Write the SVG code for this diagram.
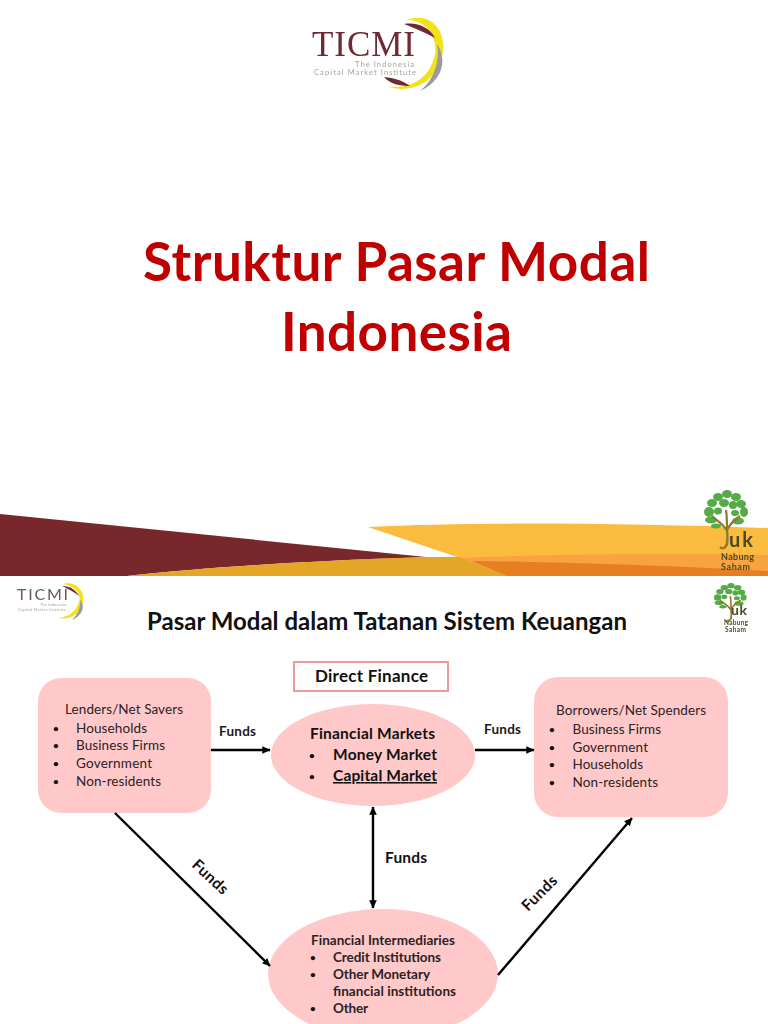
<svg xmlns="http://www.w3.org/2000/svg" width="768" height="1024" viewBox="0 0 768 1024">
<style>
text{font-family:Lato,"Liberation Sans",sans-serif;fill:#1a1a1a}
.title{font-size:53px;font-weight:700;fill:#c00000}
.item{font-size:13.5px;fill:#2a2226}
.b{font-size:15.5px;font-weight:700;fill:#111}
.f{font-size:13.5px;font-weight:700;fill:#1a1a1a}
.im{font-size:13.5px;font-weight:700;fill:#2a2226}
.bu{font-size:10px;font-weight:700;fill:#111}
.pink{fill:#ffc9c9}
.c{fill:none;stroke:#000;stroke-width:2.4}
.logo{font-family:"Liberation Serif",serif;fill:#6e2a30}
.sub{fill:#a8a29c}
.leaf{fill:#55ab45}
.ny{fill:#4a4a24;font-weight:700}
</style>
<defs>
<marker id="a" markerWidth="4" markerHeight="4" refX="3.2" refY="1.6" orient="auto-start-reverse" markerUnits="strokeWidth"><path d="M0 0L3.4 1.6L0 3.2z" fill="#000"/></marker>
<filter id="s" x="-10%" y="-10%" width="120%" height="120%"><feGaussianBlur stdDeviation="0.5"/></filter>
<g id="tree">
<g class="leaf">
<ellipse cx="23" cy="4" rx="5" ry="4"/><ellipse cx="14" cy="7" rx="5" ry="4"/><ellipse cx="32" cy="7" rx="5" ry="4"/>
<ellipse cx="8" cy="13" rx="5" ry="4"/><ellipse cx="20" cy="13" rx="5" ry="4"/><ellipse cx="29" cy="15" rx="4" ry="4"/><ellipse cx="37" cy="14" rx="5" ry="4"/>
<ellipse cx="5" cy="22" rx="5" ry="5"/><ellipse cx="14" cy="21" rx="4" ry="3.5"/><ellipse cx="31" cy="23" rx="4" ry="3"/><ellipse cx="40" cy="22" rx="4" ry="5"/>
<ellipse cx="7" cy="30" rx="6" ry="3.5"/><ellipse cx="34" cy="31" rx="6" ry="3.5"/>
<ellipse cx="12" cy="36" rx="5" ry="2.5"/>
</g>
<path d="M8 26C14 32 20 34 22 40M36 26C30 30 26 34 23 40M22 20C23 26 23 30 23 40C24 50 24 56 20 58C18 59 17 58 16 57" fill="none" stroke="#8a7a2c" stroke-width="2.2"/>
</g>
</defs>
<rect width="768" height="1024" fill="#fff"/>

<g id="slide-band">
<path d="M368 527C480 521 640 524 768 528V576H127C250 566 360 558 426 557L460 558Z" fill="#fbbb3e"/>
<path d="M0 514L426 557C330 560 220 566 127 576H0Z" fill="#78272b"/>
<path d="M127 576C220 566 330 560 430 557H460L507 576Z" fill="#e5a526"/>
<path d="M460 558C560 554 670 553 768 555V576H507Z" fill="#f8a340"/>
<path d="M472 561C560 562 680 566 768 571V576H507Z" fill="#e67e22"/>
</g>

<g id="logo-large" filter="url(#s)">
<path d="M407 20C432 10 450 34 441 60C434 82 412 95 386 86C408 90 428 80 434 58C440 38 426 20 407 20Z" fill="#f2e21c"/>
<path d="M437 44C447 58 444 80 420 91C434 80 440 62 437 44Z" fill="#9a9aa0"/>
<path d="M404 24C418 22 430 28 435 38C424 32 414 28 404 24ZM384 77C394 78 402 80 410 86C400 86 390 84 384 77Z" fill="#6e2a30"/>
<text class="logo" x="312" y="56" font-size="35" textLength="103">TICMI</text>
<text class="sub" x="355" y="67" font-size="7.5" font-family="Liberation Sans" textLength="59">The Indonesia</text>
<text class="sub" x="314" y="75" font-size="7.5" font-family="Liberation Sans" textLength="102">Capital Market Institute</text>
</g>

<g id="title">
<text class="title" x="143" y="281" textLength="507">Struktur Pasar Modal</text>
<text class="title" x="281" y="351" textLength="231">Indonesia</text>
</g>

<g id="tree-large" filter="url(#s)">
<use href="#tree" x="704" y="490"/>
<text x="729" y="547" font-size="20" font-weight="700" style="fill:#4a4a24" textLength="24">uk</text>
<text class="ny" x="721" y="560" font-size="9" textLength="33">Nabung</text>
<text class="ny" x="721" y="570" font-size="9" textLength="29">Saham</text>
</g>

<rect id="slide-2-bg" y="576" width="768" height="448" fill="#fff"/>

<g id="logo-small" filter="url(#s)">
<path d="M62 584C78 580 87 594 82 606C78 616 68 620 58 618C68 617 76 612 79 602C82 593 73 585 62 584Z" fill="#f2e21c"/>
<path d="M80 600C86 606 82 616 72 620C78 614 81 607 80 600Z" fill="#9a9aa0"/>
<path d="M62 586C70 586 76 590 79 596C73 591 68 589 62 586Z" fill="#6e2a30"/>
<text x="17" y="600" font-size="16" style="fill:#6a5458" textLength="51">TICMI</text>
<text class="sub" x="40" y="606" font-size="4" font-family="Liberation Sans" textLength="26">The Indonesia</text>
<text class="sub" x="18" y="611" font-size="4" font-family="Liberation Sans" textLength="48">Capital Market Institute</text>
</g>
<g id="tree-small" filter="url(#s)">
<use href="#tree" transform="translate(714 583) scale(.74 .66)"/>
<text x="731" y="615" font-size="14" font-weight="700" style="fill:#4a4a24" textLength="16">uk</text>
<text class="ny" x="724" y="625" font-size="6.5" textLength="24">Nabung</text>
<text class="ny" x="725" y="632" font-size="6.5" textLength="21">Saham</text>
</g>

<text id="heading" x="147" y="630" font-size="24" font-weight="700" style="fill:#111" textLength="480">Pasar Modal dalam Tatanan Sistem Keuangan</text>

<g id="direct-finance">
<rect x="294" y="662" width="154" height="29" fill="#fff" stroke="#e99b9b" stroke-width="2"/>
<text class="b" x="315" y="682" textLength="113" style="font-size:17px">Direct Finance</text>
</g>

<g id="lenders">
<rect class="pink" x="38" y="678" width="173" height="135" rx="23"/>
<text class="item" x="65" y="714" textLength="118">Lenders/Net Savers</text>
<text class="bu" x="53" y="732">•</text><text class="item" x="76" y="733" textLength="71">Households</text>
<text class="bu" x="53" y="749">•</text><text class="item" x="76" y="750" textLength="89">Business Firms</text>
<text class="bu" x="53" y="767">•</text><text class="item" x="76" y="768" textLength="76">Government</text>
<text class="bu" x="53" y="785">•</text><text class="item" x="76" y="786" textLength="85">Non-residents</text>
</g>

<g id="financial-markets">
<ellipse class="pink" cx="373" cy="755" rx="102" ry="51"/>
<text class="b" x="310" y="739" textLength="125">Financial Markets</text>
<text class="bu" x="309" y="759">•</text><text class="b" x="333" y="760" textLength="104">Money Market</text>
<text class="bu" x="309" y="780">•</text><text class="b" x="333" y="781" textLength="104" text-decoration="underline">Capital Market</text>
</g>

<g id="borrowers">
<rect class="pink" x="534" y="677" width="194" height="140" rx="24"/>
<text class="item" x="556" y="715" textLength="150">Borrowers/Net Spenders</text>
<text class="bu" x="549" y="733">•</text><text class="item" x="572.5" y="734" textLength="88.5">Business Firms</text>
<text class="bu" x="549" y="751">•</text><text class="item" x="572.5" y="752" textLength="75.5">Government</text>
<text class="bu" x="549" y="768">•</text><text class="item" x="572.5" y="769" textLength="70.5">Households</text>
<text class="bu" x="549" y="786">•</text><text class="item" x="572.5" y="787" textLength="85.5">Non-residents</text>
</g>

<g id="financial-intermediaries">
<ellipse class="pink" cx="383" cy="974" rx="115" ry="65"/>
<text class="im" x="311" y="945" textLength="144">Financial Intermediaries</text>
<text class="bu" x="310" y="961">•</text><text class="im" x="333" y="962" textLength="108">Credit Institutions</text>
<text class="bu" x="310" y="978">•</text><text class="im" x="333" y="979" textLength="97">Other Monetary</text>
<text class="im" x="333" y="996" textLength="123">financial institutions</text>
<text class="bu" x="310" y="1012">•</text><text class="im" x="333" y="1013" textLength="35">Other</text>
</g>

<g id="connectors">
<line class="c" x1="211" y1="750" x2="270" y2="750" marker-end="url(#a)"/>
<line class="c" x1="475" y1="750" x2="534" y2="750" marker-end="url(#a)"/>
<line class="c" x1="373" y1="807" x2="373" y2="908" marker-start="url(#a)" marker-end="url(#a)"/>
<line class="c" x1="115" y1="813" x2="270" y2="966" marker-end="url(#a)"/>
<line class="c" x1="498" y1="975" x2="632" y2="818" marker-end="url(#a)"/>
<text class="f" x="219" y="736" textLength="37">Funds</text>
<text class="f" x="484" y="734" textLength="37">Funds</text>
<text class="b" x="385" y="863" textLength="42">Funds</text>
<text class="b" transform="translate(191 866) rotate(43)" textLength="43">Funds</text>
<text class="b" transform="translate(528 912) rotate(-45)" textLength="43">Funds</text>
</g>
</svg>
